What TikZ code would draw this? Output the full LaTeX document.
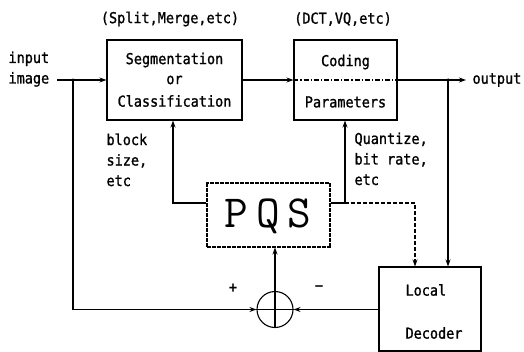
\documentclass[tikz,border=0pt]{standalone}
\usepackage{fontspec}
\usetikzlibrary{arrows.meta}
\newfontfamily\tfont[FakeStretch=0.9, FakeBold=1.2]{DejaVu Sans Mono}
\begin{document}
\begin{tikzpicture}[x=1pt,y=-1pt,
  line width=1.1pt,
  arr/.style={-{Stealth[length=7pt,width=5pt]}},
  txt/.style={font=\tfont\fontsize{15}{20}\selectfont, inner sep=0pt, align=center},
  txtl/.style={font=\tfont\fontsize{15}{20.5}\selectfont, inner sep=0pt, align=left},
  dot/.style={circle, fill, inner sep=0pt, minimum size=3.5pt}]
\useasboundingbox (0,0) rectangle (524,351);
% boxes
\node[draw, minimum width=135pt, minimum height=80pt, inner sep=0pt] (seg) at (174.5,80) {};
\node[draw, minimum width=103pt, minimum height=80pt, inner sep=0pt] (cod) at (345.5,80) {};
\node[draw, line width=2pt, dash pattern=on 2pt off 0.5pt, minimum width=123pt, minimum height=64pt, inner sep=0pt] (pqs) at (268,214.5) {};
\node[font=\ttfamily\fontsize{46}{46}\selectfont, inner sep=0pt] at (268,216) {P\hspace{8pt}Q\hspace{8pt}S};
\node[draw, minimum width=102pt, minimum height=84pt, inner sep=0pt] (dec) at (430,309) {};
\node[draw, circle, minimum size=36pt, inner sep=0pt] (sum) at (275,309.5) {};
\draw[line width=1.1pt] (sum.west) -- (sum.east) (sum.north) -- (sum.south);
% texts
\node[txt] at (174.5,60) {Segmentation};
\node[txt] at (174.5,80) {or};
\node[txt] at (174.5,101) {Classification};
\node[txt] at (345.5,62) {Coding};
\node[txt] at (345.5,102) {Parameters};
\node[txt] at (170,19) {(Split,Merge,etc)};
\node[txt] at (343,19) {(DCT,VQ,etc)};
\node[txtl, anchor=north west] (inlab) at (8,51) {input\\image};
\node[txt, anchor=west] (outlab) at (472,80) {output};
\node[txtl, anchor=north west] at (106,133) {block\\size,\\etc};
\node[txtl, anchor=north west] at (354,132) {Quantize,\\bit rate,\\etc};
\node[txt, anchor=west] at (405,290) {Local};
\node[txt, anchor=west] at (405,333) {Decoder};
\node[txt] at (233,288) {+};
\node[txt] at (319,288) {\char"2212};
% coordinates
\coordinate (inS) at (57,80);
\coordinate (j1) at (73,80);
\coordinate (j2) at (448,80);
\coordinate (outE) at (466,80);
\coordinate (pl) at (173,203);
\coordinate (pr) at (345,203);
\coordinate (dr) at (415,203);
% main line
\draw[arr] (inS) -- (seg.west);
\node[dot] at (j1) {};
\draw[arr] (seg.east) -- (cod.west);
\draw[dash pattern=on 5pt off 2pt on 1.2pt off 2pt] (cod.west) -- (cod.east);
\draw[arr] (cod.east) -- (outE);
\node[dot] at (j2) {};
% PQS controls
\draw[arr] (pqs.west |- pl) -- (pl) -- (seg.south -| pl);
\draw[arr] (pqs.east |- pr) -- (pr) -- (cod.south -| pr);
\draw[dashed, dash pattern=on 3.5pt off 2.5pt, arr] (pr) -- (dr) -- (dec.north -| dr);
\draw[arr] (j2) -- (dec.north -| j2);
% feedback
\draw[arr] (j1) |- (sum.west);
\draw[arr] (dec.west |- sum) -- (sum.east);
\draw[arr] (sum.north) -- (pqs.south -| sum);
\end{tikzpicture}
\end{document}
